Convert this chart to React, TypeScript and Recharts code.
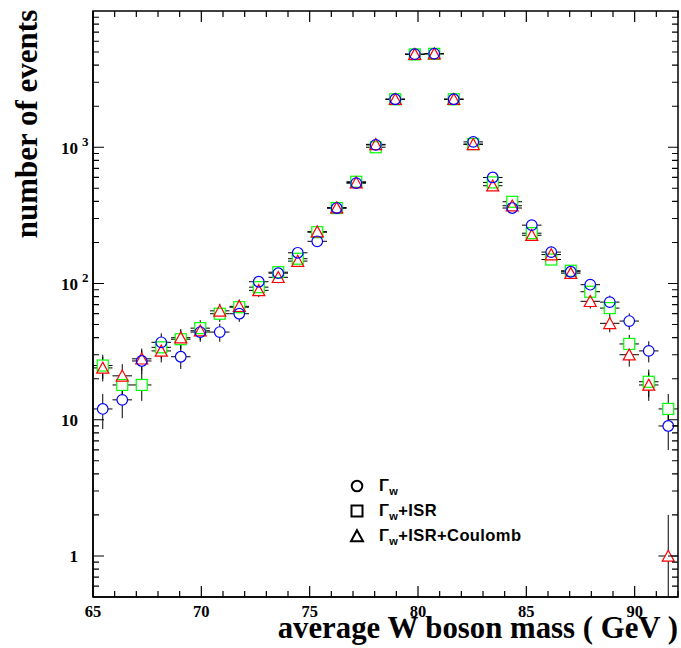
import { ErrorBar, Label, Scatter, ScatterChart, XAxis, YAxis } from 'recharts'

// bin centres (GeV), 0.9 GeV bins from 65 to 92
const MASS = [
  65.45, 66.35, 67.25, 68.15, 69.05, 69.95, 70.85, 71.75, 72.65, 73.55,
  74.45, 75.35, 76.25, 77.15, 78.05, 78.95, 79.85, 80.75, 81.65, 82.55,
  83.45, 84.35, 85.25, 86.15, 87.05, 87.95, 88.85, 89.75, 90.65, 91.55,
]
const GAMMA_W = [
  12, 14, 27, 37, 29, 44, 44, 60, 103, 119,
  168, 204, 358, 545, 1040, 2250, 4820, 4860, 2250, 1095,
  600, 358, 268, 170, 122, 98, 73, 53, 32, 9,
]
const GAMMA_W_ISR = [
  25, 18, 18, 34, 39, 47, 60, 67, 94, 121,
  152, 238, 358, 558, 1000, 2250, 4800, 4850, 2250, 1055,
  552, 398, 234, 150, 124, 87, 66, 36, 19, 12,
]
const GAMMA_W_ISR_COULOMB = [
  24, 21, 28, 32, 40, 45, 63, 68, 89, 111,
  146, 240, 360, 550, 1050, 2250, 4820, 4860, 2250, 1050,
  522, 372, 226, 163, 119, 74, 51, 30, 18, 1,
]
const BIN_HALF_WIDTH = 0.45

const X_TICKS = [
  65, 66, 67, 68, 69, 70, 71, 72, 73, 74, 75, 76, 77, 78,
  79, 80, 81, 82, 83, 84, 85, 86, 87, 88, 89, 90, 91, 92,
]
const X_LABELS = [65, 70, 75, 80, 85, 90]
const Y_DECADES = [1, 10, 100, 1000]
const Y_TICKS = [
  0.6, 0.7, 0.8, 0.9, 1, 2, 3, 4, 5, 6, 7, 8, 9, 10,
  20, 30, 40, 50, 60, 70, 80, 90, 100, 200, 300, 400, 500, 600, 700, 800, 900,
  1000, 2000, 3000, 4000, 5000, 6000, 7000, 8000, 9000,
]
const X_MIN = 65
const X_MAX = 92
const Y_MIN = 0.5
const Y_MAX = 10000

const W = 681
const H = 648
const LEFT = 93
const TOP = 11
const RIGHT = 678
const BOTTOM = 597

const SERIF = '"Liberation Serif", "Times New Roman", serif'
const SANS = '"Liberation Sans", Arial, sans-serif'

function toPoints(counts: number[]) {
  return MASS.map((m, i) => {
    const n = counts[i]
    const e = Math.sqrt(n)
    return { m, n, ex: BIN_HALF_WIDTH, ey: [Math.min(e, n - Y_MIN), e] }
  })
}

const dataW = toPoints(GAMMA_W)
const dataIsr = toPoints(GAMMA_W_ISR)
const dataCoul = toPoints(GAMMA_W_ISR_COULOMB)

type Mk = 'circle' | 'square' | 'triangle'

function marker(kind: Mk, cx: number, cy: number, fill: string, stroke: string, sw: number) {
  if (kind === 'circle')
    return <circle cx={cx} cy={cy} r={5.3} fill={fill} stroke={stroke} strokeWidth={sw} />
  if (kind === 'square')
    return <rect x={cx - 5.5} y={cy - 5.5} width={11} height={11} fill={fill} stroke={stroke} strokeWidth={sw} />
  return (
    <polygon
      points={`${cx},${cy - 5.8} ${cx + 6},${cy + 5.2} ${cx - 6},${cy + 5.2}`}
      fill={fill}
      stroke={stroke}
      strokeWidth={sw}
    />
  )
}

const outline = (kind: Mk, color: string) => (p: any) => marker(kind, p.cx, p.cy, 'none', color, 1.2)
const blank = (kind: Mk) => (p: any) => marker(kind, p.cx, p.cy, '#fff', 'none', 0)
const nothing = () => <g />

// frame tick marks: same linear / log mapping as the chart's plot box
const tickX = (v: number) => LEFT + ((v - X_MIN) / (X_MAX - X_MIN)) * (RIGHT - LEFT)
const tickY = (v: number) =>
  BOTTOM - ((Math.log10(v) - Math.log10(Y_MIN)) / (Math.log10(Y_MAX) - Math.log10(Y_MIN))) * (BOTTOM - TOP)

function FrameTicks() {
  let d = ''
  for (const v of X_TICKS) {
    const x = tickX(v)
    const len = X_LABELS.includes(v) ? 11 : 6
    d += `M${x},${BOTTOM}V${BOTTOM - len}M${x},${TOP}V${TOP + len}`
  }
  for (const v of Y_TICKS) {
    const y = tickY(v)
    const major = Y_DECADES.includes(v)
    d += `M${LEFT},${y}H${LEFT + (major ? 11 : 6)}M${RIGHT},${y}H${RIGHT - (major ? 10 : 6)}`
  }
  return (
    <svg width={W} height={H} style={{ position: 'absolute', left: 0, top: 0, pointerEvents: 'none' }}>
      <path d={d} stroke="#000" strokeWidth={1.2} fill="none" />
      <rect x={LEFT} y={TOP} width={RIGHT - LEFT} height={BOTTOM - TOP} fill="none" stroke="#000" strokeWidth={1.5} />
    </svg>
  )
}

function BottomTick({ x, payload }: any) {
  const v = payload.value
  if (!X_LABELS.includes(v)) return <g />
  return (
    <text x={x} y={617} textAnchor="middle" fontFamily={SERIF} fontWeight="bold" fontSize={16.5} fill="#000">
      {v}
    </text>
  )
}

function LeftTick({ y, payload }: any) {
  const v = payload.value
  if (!Y_DECADES.includes(v)) return <g />
  const exp = Math.round(Math.log10(v))
  return (
    <text fontFamily={SERIF} fontWeight="bold" fill="#000">
      <tspan x={78} y={y + 6.5} textAnchor="end" fontSize={17}>
        {exp >= 2 ? '10' : String(v)}
      </tspan>
      {exp >= 2 && (
        <tspan x={82} y={y - 1} fontSize={13}>
          {exp}
        </tspan>
      )}
    </text>
  )
}

const SERIES: { key: string; data: any[]; kind: Mk; color: string }[] = [
  { key: 'isr', data: dataIsr, kind: 'square', color: '#00ff00' },
  { key: 'coul', data: dataCoul, kind: 'triangle', color: '#ff0000' },
  { key: 'w', data: dataW, kind: 'circle', color: '#0000ff' },
]

const LEGEND: { kind: Mk; extra: string }[] = [
  { kind: 'circle', extra: '' },
  { kind: 'square', extra: '+ISR' },
  { kind: 'triangle', extra: '+ISR+Coulomb' },
]

function LegendBox() {
  return (
    <div
      style={{
        position: 'absolute',
        left: 347,
        top: 473,
        fontFamily: SANS,
        fontWeight: 'bold',
        fontSize: 16.5,
        letterSpacing: 0.4,
      }}
    >
      {LEGEND.map((row) => (
        <div key={row.kind} style={{ display: 'flex', alignItems: 'center', height: 25 }}>
          <svg width={20} height={20} style={{ display: 'block' }}>
            {marker(row.kind, 10, 10, 'none', '#000', 2)}
          </svg>
          <span style={{ marginLeft: 12, lineHeight: '20px', whiteSpace: 'nowrap' }}>
            Γ<span style={{ fontSize: 11, position: 'relative', top: 4 }}>w</span>
            {row.extra}
          </span>
        </div>
      ))}
    </div>
  )
}

export default function App() {
  return (
    <div style={{ position: 'absolute', left: 0, top: 0, width: W, height: H, background: '#fff' }}>
      <ScatterChart width={W} height={H} margin={{ top: TOP, right: W - RIGHT, bottom: 0, left: 0 }}>
        <XAxis
          dataKey="m"
          type="number"
          domain={[X_MIN, X_MAX]}
          allowDataOverflow
          ticks={X_TICKS}
          interval={0}
          height={H - BOTTOM}
          tickLine={false}
          axisLine={{ stroke: '#000', strokeWidth: 1.5 }}
          tick={<BottomTick />}
        >
          <Label
            content={() => (
              <text x={RIGHT} y={638} textAnchor="end" fontFamily={SERIF} fontWeight="bold" fontSize={30.8} fill="#000">
                average W boson mass ( GeV )
              </text>
            )}
          />
        </XAxis>
        <YAxis
          dataKey="n"
          type="number"
          scale="log"
          domain={[Y_MIN, Y_MAX]}
          allowDataOverflow
          ticks={Y_TICKS}
          interval={0}
          width={LEFT}
          tickLine={false}
          axisLine={{ stroke: '#000', strokeWidth: 1.5 }}
          tick={<LeftTick />}
        >
          <Label
            content={() => (
              <text
                x={37}
                y={124}
                transform="rotate(-90 37 124)"
                textAnchor="middle"
                fontFamily={SERIF}
                fontWeight="bold"
                fontSize={31}
                fill="#000"
              >
                number of events
              </text>
            )}
          />
        </YAxis>

        {SERIES.map((s) => (
          <Scatter key={`err-${s.key}`} data={s.data} shape={nothing} isAnimationActive={false}>
            <ErrorBar dataKey="ex" direction="x" width={0} stroke="#000" strokeWidth={1} isAnimationActive={false} />
            <ErrorBar dataKey="ey" direction="y" width={0} stroke="#000" strokeWidth={1} isAnimationActive={false} />
          </Scatter>
        ))}
        {SERIES.map((s) => (
          <Scatter key={`fill-${s.key}`} data={s.data} shape={blank(s.kind)} isAnimationActive={false} />
        ))}
        {SERIES.map((s) => (
          <Scatter key={`mk-${s.key}`} data={s.data} shape={outline(s.kind, s.color)} isAnimationActive={false} />
        ))}
      </ScatterChart>
      <FrameTicks />
      <LegendBox />
    </div>
  )
}
